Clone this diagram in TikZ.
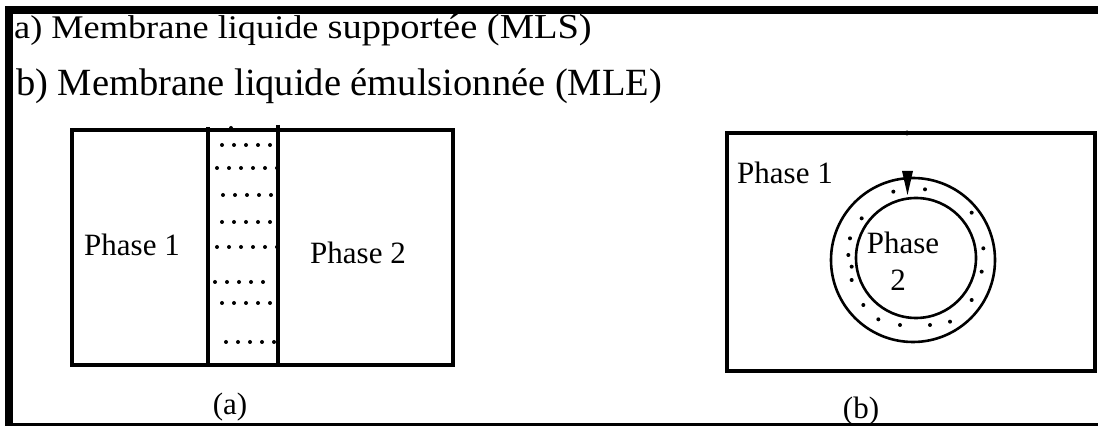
\documentclass[tikz,border=0pt]{standalone}
\usepackage{fontspec}
\setmainfont{Liberation Serif}
\newfontfamily\widefont[FakeStretch=1.1]{Liberation Serif}
\begin{document}
\begin{tikzpicture}[x=1pt,y=-1pt,
  boxline/.style={line width=3.6pt},
  ringline/.style={line width=2.6pt},
  lbl/.style={inner sep=0pt,font=\fontsize{31}{33}\selectfont},
  title/.style={inner sep=0pt,anchor=base west},
  dotm/.style={fill=black}]
\useasboundingbox (0,0) rectangle (1098,427);
\begin{scope}
\clip (0,0) rectangle (1098,427);
% frame
\draw[line width=8pt] (8.5,7) -- (8.5,427);
\draw[line width=7.5pt] (5,10) -- (1098,10);
% titles
\node[title,font=\widefont\fontsize{33}{35}\selectfont] (t1) at (14,39) {a) Membrane liquide {\fontsize{35}{37}\selectfont supportée (MLS)}};
\node[title,font=\fontsize{38.5}{40}\selectfont] (t2) at (16,96) {b) Membrane liquide émulsionnée (MLE)};
% diagram (a)
\draw[boxline] (72,130) rectangle (453,365);
\draw[boxline] (208,127) -- (208,367);
\draw[boxline] (278,125) -- (278,367);
\fill (231,128) circle (2);
\foreach \y/\xa/\n in {145/222/5,168/217/6,195/223/5,222/222/5,247/217/6,282/215/5,303/222/5,342/226/5}{
  \pgfmathsetmacro{\last}{\n-1}
  \foreach \i in {0,...,\last}{\fill[dotm] (\xa+\i*12,\y) circle (2);}
}
\node[lbl] (p1a) at (132,245) {Phase 1};
\node[lbl] (p2a) at (358,253) {Phase 2};
\node[lbl,anchor=base] (la) at (230,415) {(a)};
% diagram (b)
\draw[boxline] (727,133) rectangle (1095,371);
\fill (907,133) circle (2.5);
\draw[ringline] (913,260) circle (82);
\draw[ringline] (916,258) circle (60);
\fill (902,171) -- (913,171) -- (907.5,195) -- cycle;
\foreach \px/\py in {580/215,675/208,485/295,815/278,450/355,445/405,455/440,455/480,850/385,845/455,490/555,815/540,535/598,600/615,690/615,750/605}{
  \fill[dotm] (700+\px/3,120+\py/3) circle (2);
}
\node[lbl,anchor=west] (p1b) at (737,173) {Phase 1};
\node[lbl] (p2b) at (903,243) {Phase};
\node[lbl] (n2b) at (898,280) {2};
\node[lbl,anchor=base] (lb) at (861,419) {(b)};
\fill[white] (0,423) rectangle (1098,427);
\draw[line width=3.5pt] (5,424.5) -- (1098,424.5);
\end{scope}
\end{tikzpicture}
\end{document}
